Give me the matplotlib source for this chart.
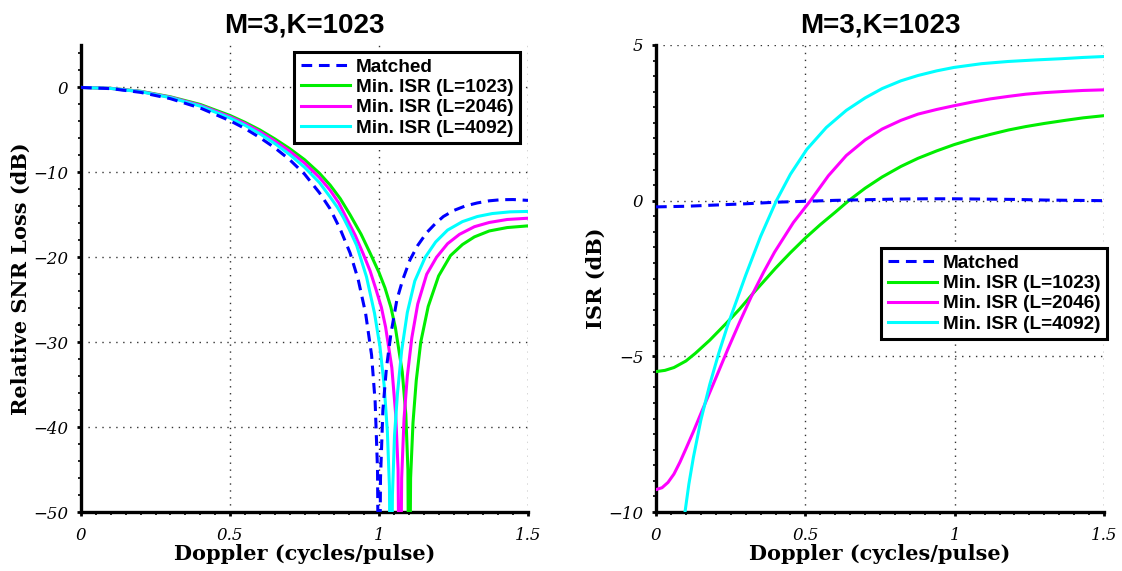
import matplotlib.pyplot as plt
from matplotlib.ticker import MultipleLocator

# ---- datos: perdida relativa de SNR (dB) ----
x_match_snr = [0, 0.1, 0.2, 0.3, 0.4, 0.5, 0.55, 0.6, 0.65, 0.7, 0.75, 0.8, 0.836, 0.87, 0.903, 0.93,
               0.955, 0.975, 0.987, 0.995, 1.0, 1.005, 1.013, 1.025, 1.04, 1.06, 1.08, 1.104, 1.13,
               1.16, 1.19, 1.216, 1.25, 1.29, 1.33, 1.37, 1.41, 1.45, 1.5]
y_match_snr = [0, -0.14, -0.58, -1.32, -2.42, -3.92, -4.83, -5.9, -7.1, -8.5, -10.2, -12.4, -14.3,
               -16.7, -19.5, -22.6, -26.6, -31.5, -37, -45, -70, -46, -38, -33, -29, -25, -22.6,
               -20.3, -18.6, -17.1, -16.0, -15.2, -14.5, -13.95, -13.6, -13.35, -13.22, -13.2, -13.3]

x_1023_snr = [0, 0.1, 0.2, 0.3, 0.4, 0.5, 0.55, 0.6, 0.65, 0.7, 0.75, 0.8, 0.836, 0.87, 0.903, 0.94,
              0.97, 1.0, 1.02, 1.04, 1.055, 1.078, 1.09, 1.097, 1.101, 1.106, 1.114, 1.125, 1.14,
              1.165, 1.2, 1.24, 1.28, 1.32, 1.37, 1.43, 1.5]
y_1023_snr = [0, -0.1, -0.45, -1.1, -2.0, -3.3, -4.1, -5.0, -6.05, -7.2, -8.5, -10.1, -11.5, -13.1,
              -15.0, -17.3, -19.5, -21.8, -23.6, -25.9, -28.3, -33.5, -38.5, -45, -70, -46, -39.5,
              -34.5, -30, -25.8, -22.2, -19.8, -18.5, -17.6, -16.9, -16.5, -16.3]

x_2046_snr = [0, 0.1, 0.2, 0.3, 0.4, 0.5, 0.55, 0.6, 0.65, 0.7, 0.75, 0.8, 0.836, 0.865, 0.891, 0.92,
              0.947, 0.97, 0.99, 1.008, 1.022, 1.043, 1.056, 1.064, 1.07, 1.076, 1.084, 1.095, 1.11,
              1.13, 1.16, 1.193, 1.23, 1.27, 1.32, 1.37, 1.43, 1.5]
y_2046_snr = [0, -0.11, -0.48, -1.15, -2.1, -3.45, -4.25, -5.2, -6.3, -7.5, -8.9, -10.6, -12.1,
              -13.6, -15.4, -17.4, -19.6, -21.6, -23.8, -25.9, -28.2, -33, -38.5, -45, -70, -46,
              -39, -34, -29.5, -25.5, -22, -20, -18.4, -17.3, -16.4, -15.9, -15.55, -15.4]

x_4092_snr = [0, 0.1, 0.2, 0.3, 0.4, 0.5, 0.55, 0.6, 0.65, 0.7, 0.75, 0.8, 0.836, 0.86, 0.88, 0.9,
              0.925, 0.958, 0.985, 1.003, 1.017, 1.028, 1.035, 1.04, 1.045, 1.052, 1.062, 1.076,
              1.095, 1.12, 1.155, 1.19, 1.23, 1.28, 1.33, 1.38, 1.44, 1.5]
y_4092_snr = [0, -0.12, -0.5, -1.2, -2.2, -3.6, -4.45, -5.45, -6.6, -7.9, -9.4, -11.2, -12.9, -14.1,
              -15.3, -16.7, -18.6, -22.3, -26.6, -30.5, -35, -40.5, -47, -70, -48, -41, -36, -31,
              -26.5, -22.8, -20, -18.2, -16.8, -15.8, -15.2, -14.85, -14.65, -14.6]

# ---- datos: ISR (dB) ----
x_match_isr = [0, 0.1, 0.2, 0.3, 0.4, 0.5, 0.6, 0.7, 0.8, 0.9, 1.0, 1.1, 1.2, 1.3, 1.4, 1.5]
y_match_isr = [-0.2, -0.18, -0.14, -0.1, -0.05, -0.02, 0.01, 0.03, 0.05, 0.06, 0.06, 0.05, 0.04,
               0.02, 0.01, 0.0]

x_1023_isr = [0, 0.03, 0.06, 0.1, 0.132, 0.18, 0.234, 0.28, 0.32, 0.36, 0.4, 0.45, 0.5, 0.55, 0.6,
              0.645, 0.7, 0.757, 0.82, 0.877, 0.94, 0.998, 1.06, 1.12, 1.18, 1.238, 1.3, 1.37,
              1.43, 1.5]
y_1023_isr = [-5.49, -5.45, -5.36, -5.15, -4.9, -4.48, -3.95, -3.48, -3.03, -2.6, -2.17, -1.67, -1.2,
              -0.77, -0.37, 0, 0.4, 0.76, 1.1, 1.36, 1.6, 1.8, 1.98, 2.13, 2.27, 2.38, 2.48, 2.58,
              2.66, 2.73]

x_2046_isr = [0, 0.02, 0.04, 0.06, 0.08, 0.1, 0.125, 0.147, 0.168, 0.2, 0.24, 0.28, 0.318, 0.36,
              0.397, 0.46, 0.517, 0.577, 0.637, 0.7, 0.757, 0.82, 0.877, 0.94, 0.998, 1.06, 1.12,
              1.18, 1.238, 1.3, 1.37, 1.43, 1.5]
y_2046_isr = [-9.28, -9.22, -9.05, -8.78, -8.4, -7.97, -7.42, -6.91, -6.43, -5.7, -4.78, -3.9, -3.1,
              -2.3, -1.65, -0.7, 0, 0.8, 1.45, 1.95, 2.3, 2.58, 2.78, 2.93, 3.05, 3.17, 3.27, 3.35,
              3.42, 3.47, 3.51, 3.54, 3.56]

x_4092_isr = [0.097, 0.11, 0.125, 0.15, 0.18, 0.21, 0.24, 0.27, 0.3, 0.35, 0.403, 0.45, 0.505, 0.57,
              0.637, 0.7, 0.757, 0.82, 0.877, 0.94, 0.998, 1.09, 1.178, 1.27, 1.358, 1.43, 1.5]
y_4092_isr = [-10, -9.1, -8.25, -7.05, -5.9, -4.9, -4.0, -3.2, -2.4, -1.15, 0, 0.85, 1.65, 2.35, 2.9,
              3.3, 3.6, 3.85, 4.02, 4.17, 4.28, 4.4, 4.47, 4.52, 4.56, 4.6, 4.63]

etiquetas = ["Matched", "Min. ISR (L=1023)", "Min. ISR (L=2046)", "Min. ISR (L=4092)"]
colores = ["#0000ff", "#00ee00", "#ff00ff", "#00ffff"]
titulo = "M=3,K=1023"
xticks = [0, 0.5, 1, 1.5]
xticklabels = ["0", "0.5", "1", "1.5"]

fuente_titulo = dict(family="Liberation Sans", weight="bold", size=20)
fuente_eje = dict(family="DejaVu Serif", weight="bold", size=15)
fuente_tick = dict(family="DejaVu Serif", style="italic", size=12)
fuente_leyenda = dict(family="Liberation Sans", weight="bold", size=13.7)


def dibujar(ax, series, ylim, yticks, yminor, ylabel, ancla):
    for (x, y), lab, c in zip(series, etiquetas, colores):
        if lab == "Matched":
            ax.plot(x, y, color=c, lw=2.2, linestyle="--", dashes=(3.5, 2.2), label=lab, zorder=4)
        else:
            ax.plot(x, y, color=c, lw=2.2, label=lab, zorder=3)
    ax.set_xlim(0, 1.5)
    ax.set_ylim(*ylim)
    ax.set_xticks(xticks)
    ax.set_xticklabels(xticklabels, fontdict=fuente_tick)
    ax.set_yticks(yticks)
    ax.set_yticklabels([str(t).replace("-", "\u2212") for t in yticks], fontdict=fuente_tick)
    ax.xaxis.set_minor_locator(MultipleLocator(0.05))
    ax.yaxis.set_minor_locator(MultipleLocator(yminor))
    ax.tick_params(which="major", direction="out", length=3, width=2, pad=6)
    ax.tick_params(which="minor", direction="out", length=2, width=1.2)
    ax.tick_params(axis="x", which="major", pad=8)
    ax.grid(True, which="major", linestyle=(0, (1, 4)), color="0.2", lw=1.0)
    for s in ["top", "right"]:
        ax.spines[s].set_visible(False)
    for s in ["left", "bottom"]:
        ax.spines[s].set_linewidth(2.4)
    ax.set_title(titulo, fontdict=fuente_titulo, pad=9)
    ax.set_xlabel("Doppler (cycles/pulse)", fontdict=fuente_eje, labelpad=0)
    ax.set_ylabel(ylabel, fontdict=fuente_eje)
    ax.yaxis.set_label_coords(-0.112, 0.5)
    leg = ax.legend(loc="upper right", bbox_to_anchor=ancla, borderaxespad=0, prop=fuente_leyenda,
                    fancybox=False, framealpha=1, edgecolor="black", handlelength=2.6,
                    handletextpad=0.3, labelspacing=0.15, borderpad=0.35)
    leg.get_frame().set_linewidth(2.2)
    leg.set_zorder(10)


fig = plt.figure(figsize=(11.22, 5.71), dpi=100)
ax1 = fig.add_axes([0.0722, 0.1033, 0.3984, 0.8179])
ax2 = fig.add_axes([0.5847, 0.1033, 0.3993, 0.8179])

dibujar(ax1, [(x_match_snr, y_match_snr), (x_1023_snr, y_1023_snr), (x_2046_snr, y_2046_snr),
              (x_4092_snr, y_4092_snr)],
        (-50, 5), [0, -10, -20, -30, -40, -50], 2, "Relative SNR Loss (dB)", (0.982, 0.985))
dibujar(ax2, [(x_match_isr, y_match_isr), (x_1023_isr, y_1023_isr), (x_2046_isr, y_2046_isr),
              (x_4092_isr, y_4092_isr)],
        (-10, 5), [5, 0, -5, -10], 0.5, "ISR (dB)", (1.007, 0.565))

fig.savefig("out.png", dpi=100)
